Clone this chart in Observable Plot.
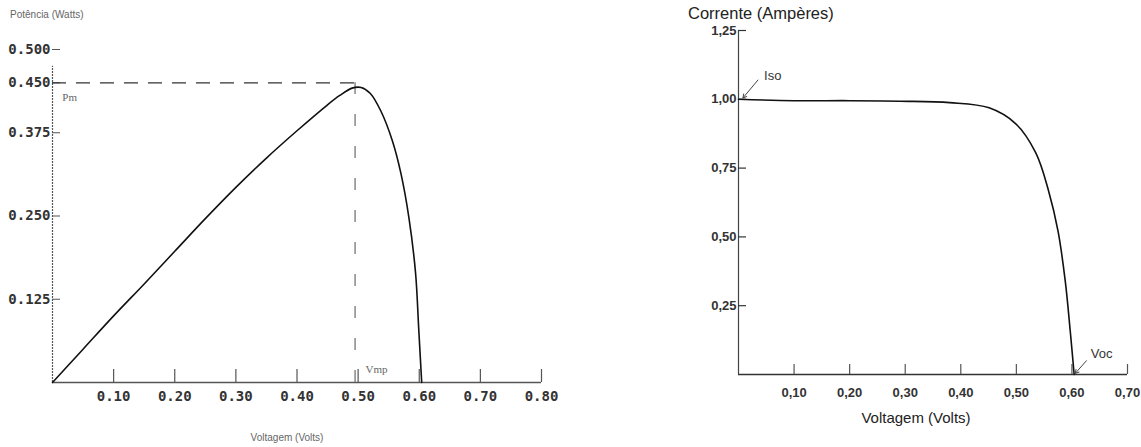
<!DOCTYPE html>
<html><head><meta charset="utf-8">
<script src="https://cdn.jsdelivr.net/npm/d3@7"></script>
<script src="https://cdn.jsdelivr.net/npm/@observablehq/plot@0.6"></script>
<style>
body{margin:0;background:#fff;}
#wrap{position:relative;width:1141px;height:447px;overflow:hidden;background:#fff;}
#left{position:absolute;left:0;top:0;}
#right{position:absolute;left:570px;top:0;}
.t{position:absolute;white-space:nowrap;font-family:"Liberation Sans",Arial,sans-serif;line-height:1;}
</style></head><body>
<div id="wrap">
<div id="left"></div><div id="right"></div>
<div class="t" style="left:10px;top:10px;font-size:10px;color:#666;">Potência (Watts)</div>
<div class="t" style="left:287px;top:433px;font-size:10px;color:#666;transform:translateX(-50%);">Voltagem (Volts)</div>
<div class="t" style="left:688px;top:5px;font-size:16.5px;color:#222;">Corrente (Ampères)</div>
<div class="t" style="left:916px;top:410px;font-size:15px;color:#222;transform:translateX(-50%);">Voltagem (Volts)</div>
</div>
<script>
// ---- Left chart: power vs voltage ----
const powerVolts = [0, 0.05, 0.10, 0.15, 0.20, 0.25, 0.30, 0.35, 0.40, 0.45, 0.47, 0.49, 0.505, 0.52, 0.537, 0.556, 0.570, 0.583, 0.594, 0.599, 0.604];
const powerWatts = [0, 0.05, 0.10, 0.148, 0.197, 0.246, 0.293, 0.337, 0.378, 0.417, 0.431, 0.442, 0.443, 0.434, 0.408, 0.363, 0.314, 0.248, 0.164, 0.083, 0];
const powerXTicks = [0.1, 0.2, 0.3, 0.4, 0.5, 0.6, 0.7, 0.8];
const powerYTicks = [0.125, 0.25, 0.375, 0.45, 0.5];
const maxPower = 0.45;        // Pm
const maxPowerVolts = 0.495;  // Vmp
const powerAxisTop = 0.475;
const powerNotes = [
  {label: "Pm", v: 0.016, w: 0.428},
  {label: "Vmp", v: 0.512, w: 0.02}
];

// ---- Right chart: current vs voltage ----
const currentVolts = [0, 0.1, 0.2, 0.29, 0.38, 0.451, 0.499, 0.535, 0.558, 0.575, 0.588, 0.597, 0.604];
const currentAmps = [1.0, 0.995, 0.995, 0.993, 0.988, 0.969, 0.911, 0.805, 0.667, 0.521, 0.339, 0.157, 0];
const currentXTicks = [0.1, 0.2, 0.3, 0.4, 0.5, 0.6, 0.7];
const currentYTicks = [0.25, 0.5, 0.75, 1.0, 1.25];
const currentNotes = [
  {label: "Iso", v: 0.046, a: 1.085, v1: 0.035, a1: 1.07, v2: 0.008, a2: 1.005},
  {label: "Voc", v: 0.634, a: 0.075, v1: 0.626, a1: 0.05, v2: 0.606, a2: 0.004}
];

const powerData = powerVolts.map((v, i) => ({v, w: powerWatts[i]}));
const currentData = currentVolts.map((v, i) => ({v, a: currentAmps[i]}));

// Left plot geometry
const L = {width: 570, height: 447, marginLeft: 52, marginRight: 29, marginTop: 49, marginBottom: 65};
const LfW = L.width - L.marginLeft - L.marginRight;
const LfH = L.height - L.marginTop - L.marginBottom;
const monoFont = "DejaVu Sans Mono";

const left = Plot.plot({
  ...L,
  style: {background: "#fff", overflow: "visible"},
  x: {domain: [0, 0.8]},
  y: {domain: [0, 0.5]},
  marks: [
    Plot.ruleY([0], {stroke: "#555", strokeWidth: 1.3}),
    Plot.ruleX([0], {y1: 0, y2: powerAxisTop, stroke: "#555", strokeWidth: 1.2, strokeDasharray: "2,1"}),
    Plot.tickY(powerYTicks, {y: d => d, insetRight: LfW - 8, stroke: "#555", strokeWidth: 1}),
    Plot.tickX(powerXTicks, {x: d => d, insetTop: LfH - 13, stroke: "#555", strokeWidth: 1.2}),
    Plot.ruleY([maxPower], {x1: 0, x2: maxPowerVolts, stroke: "#333", strokeWidth: 1.2, strokeDasharray: "14,10"}),
    Plot.ruleX([maxPowerVolts], {y1: 0, y2: maxPower, stroke: "#777", strokeWidth: 1.3, strokeDasharray: "12,20"}),
    Plot.line(powerData, {x: "v", y: "w", curve: "catmull-rom", stroke: "#111", strokeWidth: 1.6}),
    Plot.text(powerNotes, {x: "v", y: "w", text: "label", textAnchor: "start", fontSize: 11, fill: "#666", fontFamily: "Liberation Serif"}),
    Plot.axisX(powerXTicks, {tickSize: 0, tickPadding: 9, tickFormat: d3.format(".2f"), fontSize: 14, fontFamily: monoFont, fontWeight: "bold", fill: "#333", label: null}),
    Plot.axisY(powerYTicks, {tickSize: 0, tickPadding: 2, tickFormat: d3.format(".3f"), fontSize: 14, fontFamily: monoFont, fontWeight: "bold", fill: "#333", label: null})
  ]
});
document.getElementById("left").appendChild(left);

// Right plot geometry
const R = {width: 571, height: 447, marginLeft: 168, marginRight: 14, marginTop: 30, marginBottom: 73};
const RfW = R.width - R.marginLeft - R.marginRight;
const RfH = R.height - R.marginTop - R.marginBottom;
const commaFmt = d => d.toFixed(2).replace(".", ",");
const sansFont = "Liberation Sans";

const right = Plot.plot({
  ...R,
  style: {background: "#fff", overflow: "visible"},
  x: {domain: [0, 0.7]},
  y: {domain: [0, 1.25]},
  marks: [
    Plot.ruleY([0], {stroke: "#333", strokeWidth: 1.3}),
    Plot.ruleX([0], {stroke: "#444", strokeWidth: 1.2}),
    Plot.tickY(currentYTicks, {y: d => d, insetRight: RfW - 8, stroke: "#333", strokeWidth: 1.2}),
    Plot.tickX(currentXTicks, {x: d => d, insetTop: RfH - 10, stroke: "#555", strokeWidth: 1.2}),
    Plot.line(currentData, {x: "v", y: "a", curve: "catmull-rom", stroke: "#111", strokeWidth: 1.6}),
    Plot.arrow(currentNotes, {x1: "v1", y1: "a1", x2: "v2", y2: "a2", stroke: "#444", strokeWidth: 1, headLength: 6}),
    Plot.text(currentNotes, {x: "v", y: "a", text: "label", textAnchor: "start", fontSize: 13, fill: "#333", fontFamily: sansFont}),
    Plot.axisX(currentXTicks, {tickSize: 0, tickPadding: 13, tickFormat: commaFmt, fontSize: 13, fontWeight: "bold", fontFamily: sansFont, fill: "#333", label: null}),
    Plot.axisY(currentYTicks, {tickSize: 0, tickPadding: 2, tickFormat: commaFmt, fontSize: 13, fontWeight: "bold", fontFamily: sansFont, fill: "#333", label: null})
  ]
});
document.getElementById("right").appendChild(right);
</script>
</body></html>
